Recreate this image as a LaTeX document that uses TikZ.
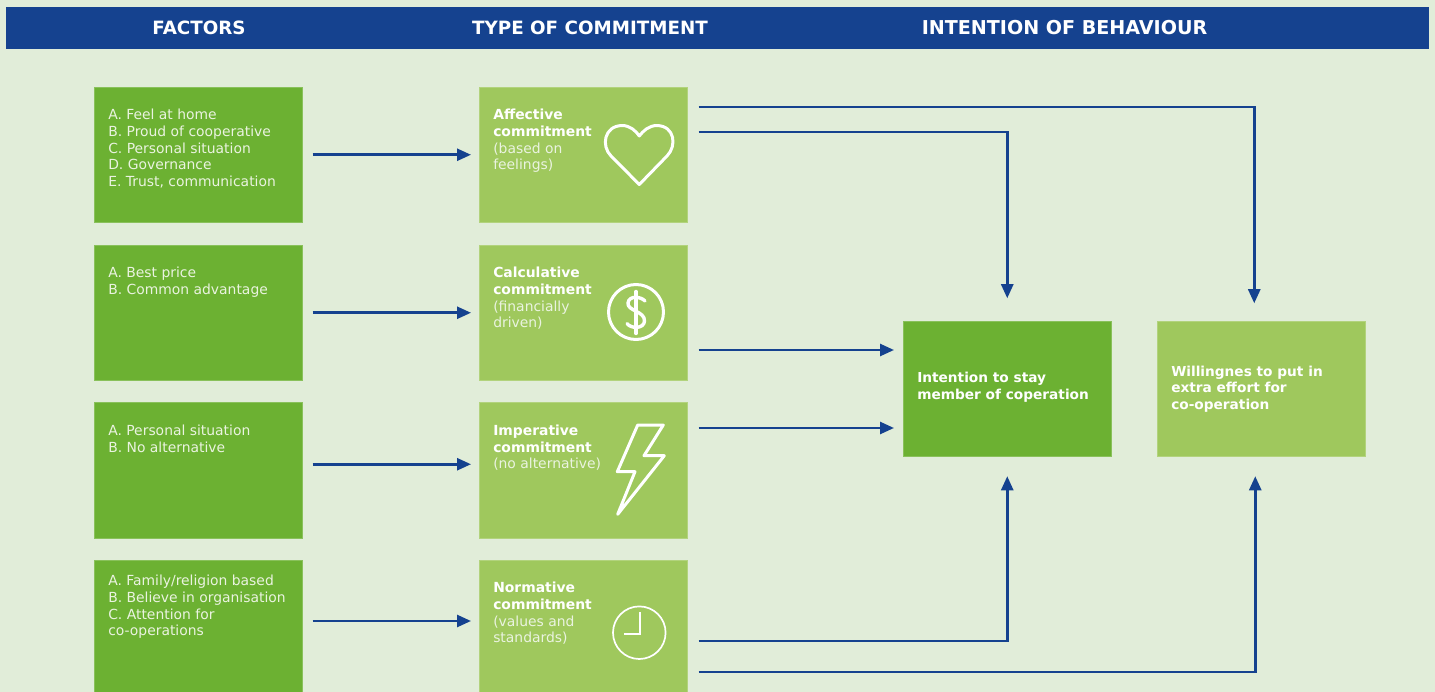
\documentclass[tikz,border=0pt]{standalone}
\usepackage{fontspec}
\setmainfont{DejaVu Sans}
\usetikzlibrary{arrows.meta}
\definecolor{bgc}{HTML}{E1EDD9}
\definecolor{navy}{HTML}{15428F}
\definecolor{darkg}{HTML}{6CB132}
\definecolor{lightg}{HTML}{9FC85D}
\definecolor{softw}{HTML}{EAF3E0}
\newcommand{\boxtextat}[3]{\parbox[c][#1pt][t]{180pt}{\vspace*{#2pt}\raggedright\fontsize{13.9}{16.7}\selectfont #3}}
\newcommand{\boxtext}[2]{\boxtextat{#1}{22}{#2}}
\newcommand{\bt}[1]{{\bfseries\color{white}#1}\\}
\tikzset{
  darkbox/.style={fill=darkg,draw=darkg!80!white,line width=.5pt,anchor=north west,inner sep=0pt,inner xsep=14pt,minimum width=208pt,text=softw,align=left},
  lightbox/.style={fill=lightg,draw=lightg!80!white,line width=.5pt,anchor=north west,inner sep=0pt,inner xsep=14pt,minimum width=208pt,text=softw,align=left},
  head/.style={text=white,font=\bfseries\fontsize{18.3}{22}\selectfont,anchor=center,inner sep=0pt},
  conn/.style={draw=navy,line width=2.5pt,-{Triangle[length=14pt,width=12pt]}},
  icon/.style={draw=white,line width=3pt,line join=round,line cap=round},
  iconthick/.style={draw=white,line width=3.4pt,line join=round,line cap=round},
  iconthin/.style={draw=white,line width=1.7pt,line join=miter},
}
\begin{document}
\begin{tikzpicture}[x=1pt,y=-1pt]
\useasboundingbox (0,0) rectangle (1435,692);
\fill[bgc] (0,0) rectangle (1435,692);
\node[fill=navy,minimum width=1423pt,minimum height=42.5pt,inner sep=0pt,anchor=north west] (bar) at (6,6.5) {};
\node[head] (h1) at (199,28) {FACTORS};
\node[head] (h2) at (590,28) {TYPE OF COMMITMENT};
\node[head,font=\bfseries\fontsize{19.1}{22}\selectfont] (h3) at (1064.5,28) {INTENTION OF BEHAVIOUR};

\node[darkbox] (f1) at (94,87) {\boxtext{135}{A. Feel at home\\B. Proud of cooperative\\C. Personal situation\\D. Governance\\E. Trust, communication}};
\node[darkbox] (f2) at (94,245) {\boxtext{135}{A. Best price\\B. Common advantage}};
\node[darkbox] (f3) at (94,402.5) {\boxtext{135}{A. Personal situation\\B. No alternative}};
\node[darkbox] (f4) at (94,560) {\boxtextat{132}{15}{A. Family/religion based\\B. Believe in organisation\\C. Attention for\\co-operations}};

\node[lightbox] (c1) at (479,87) {\boxtext{135}{\bt{Affective}\bt{commitment}(based on\\feelings)}};
\node[lightbox] (c2) at (479,245) {\boxtext{135}{\bt{Calculative}\bt{commitment}(financially\\driven)}};
\node[lightbox] (c3) at (479,402.5) {\boxtext{135}{\bt{Imperative}\bt{commitment}(no alternative)}};
\node[lightbox] (c4) at (479,560) {\boxtext{132}{\bt{Normative}\bt{commitment}(values and\\standards)}};

\node[darkbox,anchor=west] (s) at (903,389) {\parbox[c][135pt][c]{180pt}{\raggedright\fontsize{13.7}{16.7}\selectfont\bfseries\color{white}Intention to stay\\member of coperation\par\vspace*{4pt}}};
\node[lightbox,anchor=west] (w) at (1157,389) {\parbox[c][135pt][c]{180pt}{\raggedright\fontsize{13.7}{16.7}\selectfont\bfseries\color{white}Willingnes to put in\\extra effort for\\co-operation}};

% icons
\draw[icon] (639.3,184.5) -- (611,156) .. controls (601,146) and (604,126) .. (622,125.5) .. controls (630,125.5) and (636,131) .. (639.3,136) .. controls (643,131) and (649,125.5) .. (657,125.5) .. controls (675,126) and (677,146) .. (667,156) -- cycle;
\draw[icon] (636,312) circle (27.5);
\draw[iconthick] (636,291.5) -- (636,333.5);
\draw[iconthick] (645,301) .. controls (641,296.5) and (629,295) .. (628,303) .. controls (627,311) and (645,311) .. (644.5,321) .. controls (644,329) and (631,329) .. (627,323.5);
\draw[icon] (637.7,425) -- (663.3,425) -- (644,455.7) -- (664.3,455.7) -- (617.7,514.3) -- (635,471.7) -- (617.3,471.7) -- cycle;
\draw[iconthin] (639.3,632.7) circle (26.3);
\draw[iconthin] (640,612.3) -- (640,634) -- (624.3,634);

% connectors
\coordinate (c2out) at ([yshift=-105pt]c2.north east);
\coordinate (c3out) at ([yshift=-25.5pt]c3.north east);
\draw[conn,shorten <=10pt,shorten >=8pt] (f1.east) -- (f1.east -| c1.west);
\draw[conn,shorten <=10pt,shorten >=8pt] (f2.east) -- (f2.east -| c2.west);
\draw[conn,shorten <=10pt,shorten >=8pt] ([yshift=6pt]f3.east) -- ([yshift=6pt]f3.east -| c3.west);
\draw[conn,shorten <=10pt,shorten >=8pt] ([yshift=-61pt]f4.north east) -- ([yshift=-61pt]f4.north east -| c4.west);

\draw[conn,shorten <=11pt,shorten >=18pt] ([yshift=-20pt]c1.north east) -| ([xshift=-7pt]w.north);
\draw[conn,shorten <=11pt,shorten >=23pt] ([yshift=-45pt]c1.north east) -| (s.north);
\draw[conn,shorten <=11pt,shorten >=9pt] (c2out) -- (c2out -| s.west);
\draw[conn,shorten <=11pt,shorten >=9pt] (c3out) -- (c3out -| s.west);
\draw[conn,shorten <=11pt,shorten >=19.5pt] ([yshift=-81pt]c4.north east) -| (s.south);
\draw[conn,shorten <=11pt,shorten >=19.5pt] ([yshift=-112pt]c4.north east) -| ([xshift=-6pt]w.south);
\end{tikzpicture}
\end{document}
